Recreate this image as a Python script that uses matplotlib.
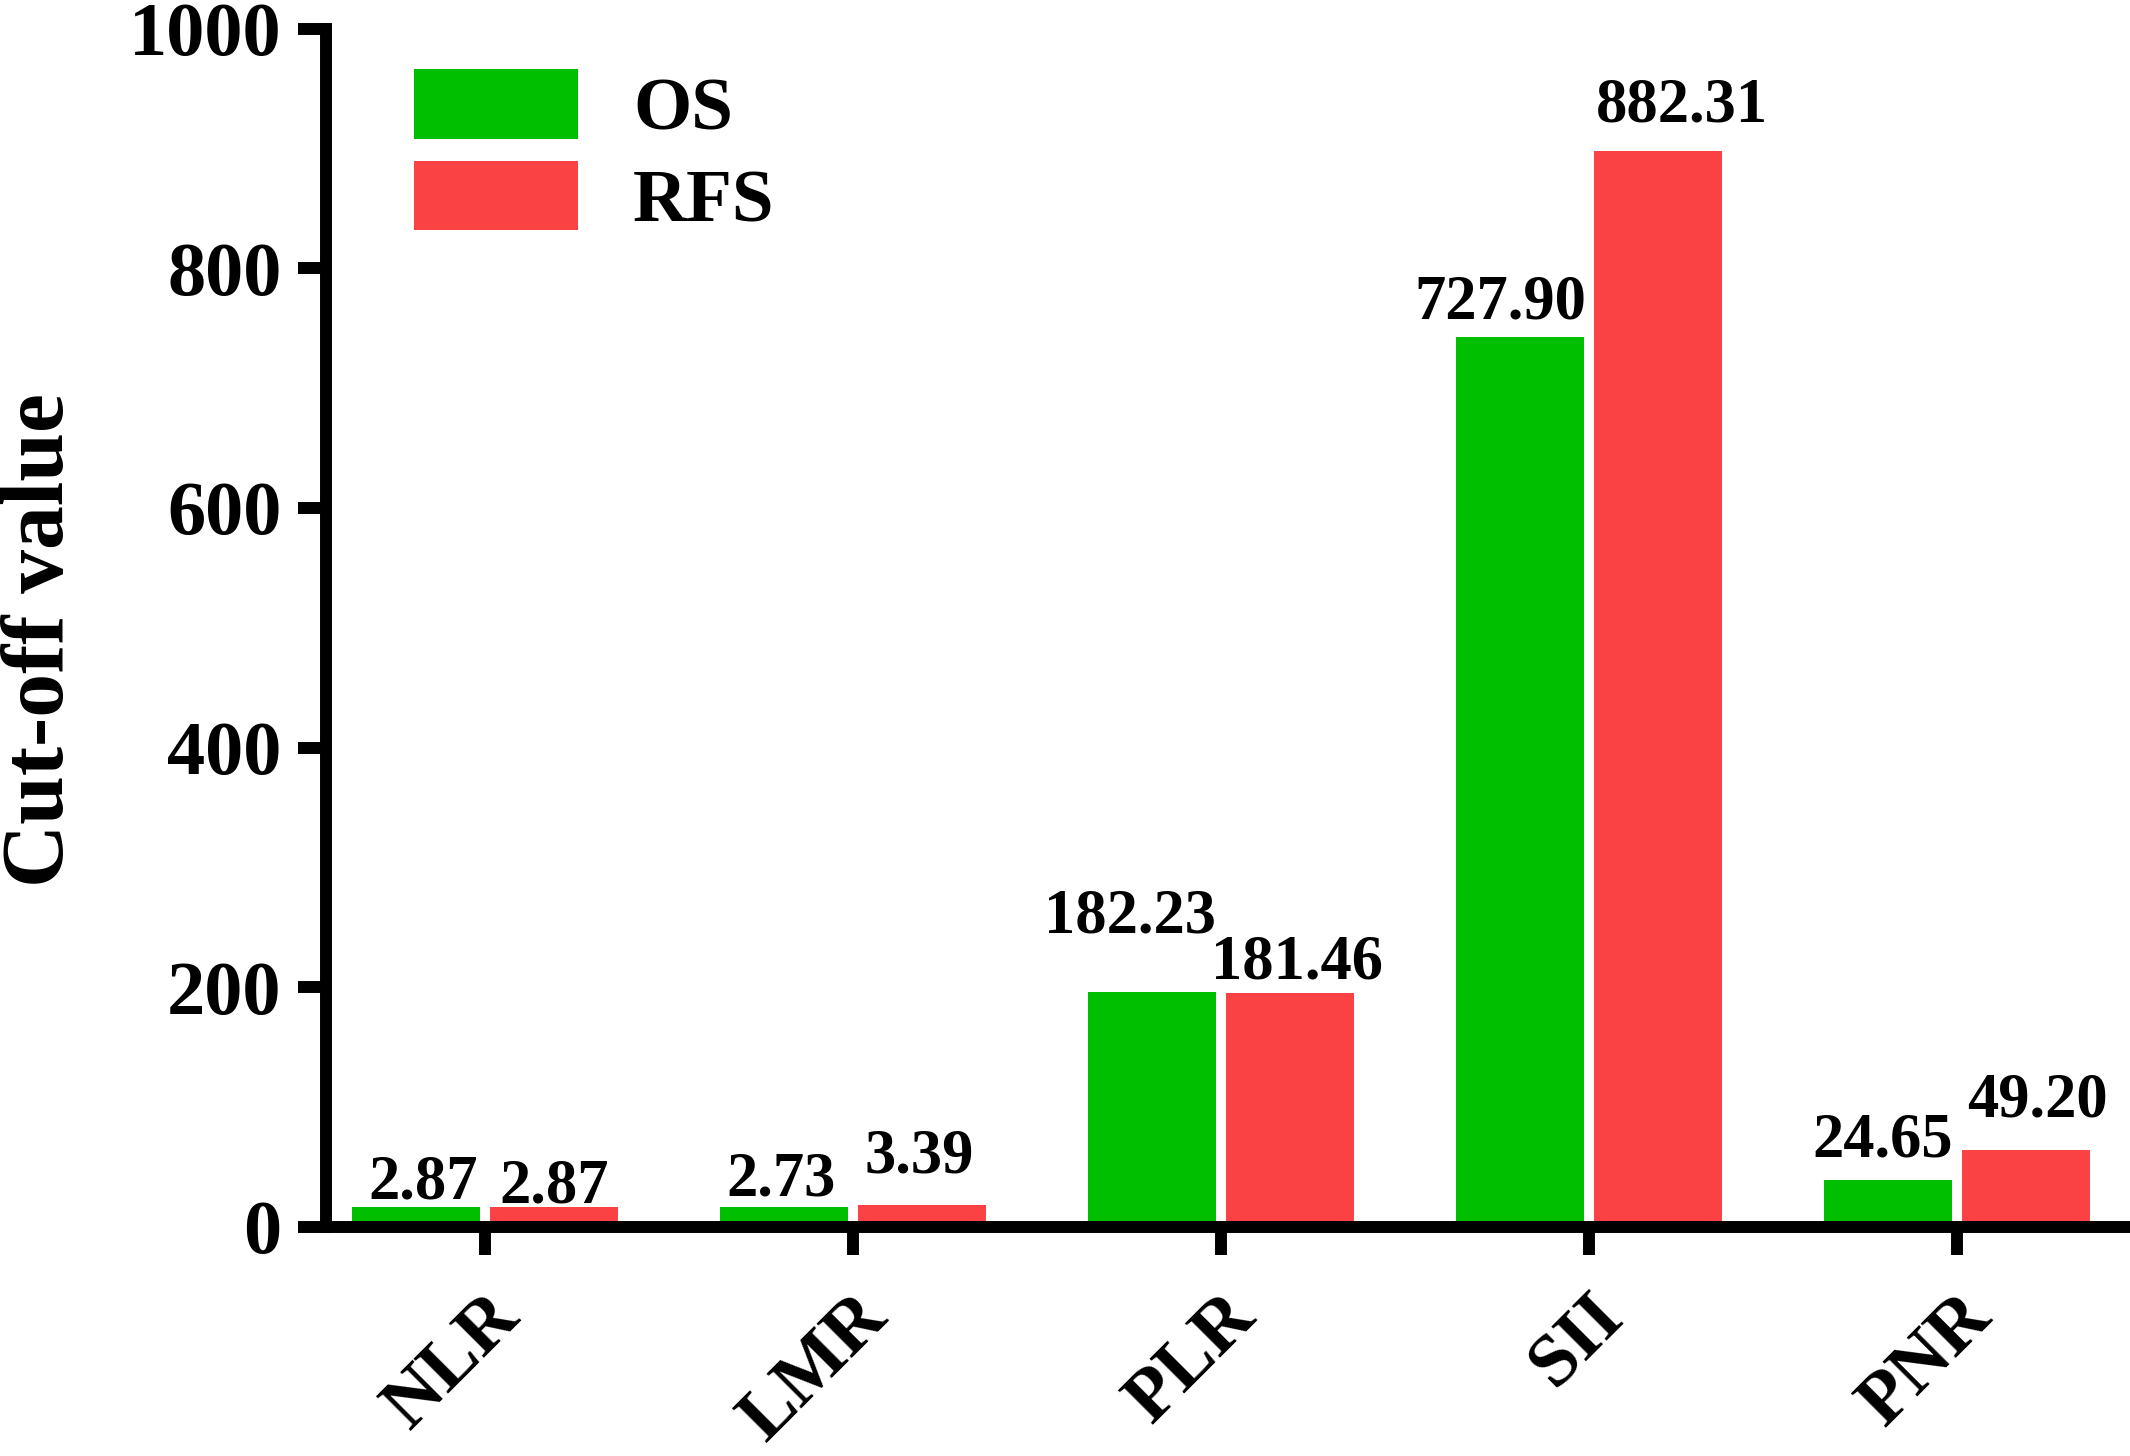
import matplotlib
matplotlib.use("Agg")
import matplotlib.pyplot as plt
from matplotlib.patches import Patch
import numpy as np

categories = ["NLR", "LMR", "PLR", "SII", "PNR"]
# bar heights as drawn in the figure
os_heights = [17, 17, 196, 743, 39]
rfs_heights = [17, 18, 195, 898, 64]
# cut-off values printed above the bars
os_labels = ["2.87", "2.73", "182.23", "727.90", "24.65"]
rfs_labels = ["2.87", "3.39", "181.46", "882.31", "49.20"]
yticks = [0, 200, 400, 600, 800, 1000]

GREEN = "#00BF00"
RED = "#FA4244"

# label nudges (points): dx from bar centre, gap above bar top
os_nudge = [(5, 6), (-2, 8), (-16, 43), (-14, 13), (-4, 17)]
rfs_nudge = [(0, 3), (-2, 24), (5, 11), (17, 21), (8, 24)]

plt.rcParams["font.family"] = ["Liberation Serif", "DejaVu Serif"]
plt.rcParams["font.weight"] = "bold"

fig = plt.figure(figsize=(21.3, 14.56), dpi=100)
ax = fig.add_axes([0.153, 0.1573, 0.847, 0.823])

x = np.arange(len(categories))
width = 0.347
shift = 0.188
bars_os = ax.bar(x - shift, os_heights, width, color=GREEN, linewidth=0, zorder=1)
bars_rfs = ax.bar(x + shift, rfs_heights, width, color=RED, linewidth=0, zorder=1)

for bars, labels, nudges in [(bars_os, os_labels, os_nudge), (bars_rfs, rfs_labels, rfs_nudge)]:
    for b, lab, (dx, dy) in zip(bars, labels, nudges):
        ax.annotate(lab, (b.get_x() + b.get_width() / 2, b.get_height()),
                    xytext=(dx, dy), textcoords="offset points",
                    ha="center", va="baseline", fontsize=45, fontweight="bold")

ax.set_xlim(-0.432, 4.47)
ax.set_ylim(0, 1000)
ax.set_yticks(yticks)
ax.set_yticklabels([str(t) for t in yticks], fontsize=55, fontweight="bold")
ax.set_xticks(x)
ax.set_xticklabels(categories, fontsize=54, fontweight="bold",
                   rotation=45, ha="right", va="top", rotation_mode="anchor")

for s in ["top", "right"]:
    ax.spines[s].set_visible(False)
for s in ["left", "bottom"]:
    ax.spines[s].set_linewidth(8.6)
    ax.spines[s].set_capstyle("projecting")
ax.tick_params(axis="both", width=8.6, length=20, color="black")
ax.tick_params(axis="y", pad=12)
ax.tick_params(axis="x", pad=20)

ax.set_ylabel("Cut-off value", fontsize=63, fontweight="bold")
ax.yaxis.set_label_coords(-0.135, 0.49)

handles = [Patch(facecolor=GREEN, linewidth=0, label="OS"),
           Patch(facecolor=RED, linewidth=0, label="RFS")]
ax.legend(handles=handles, loc="upper left", bbox_to_anchor=(0.0488, 0.966),
          frameon=False, handlelength=2.19, handleheight=1.05,
          handletextpad=0.73, labelspacing=0.2, borderpad=0, borderaxespad=0,
          prop={"weight": "bold", "size": 54})

fig.savefig("out.png", dpi=100)
